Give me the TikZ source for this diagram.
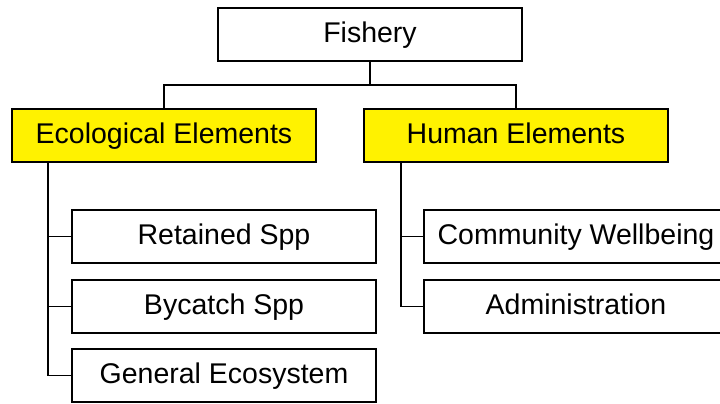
\documentclass[tikz,border=0pt]{standalone}
\usepackage{fontspec}
\setmainfont{Liberation Sans}
\usetikzlibrary{positioning}

\begin{document}
\begin{tikzpicture}[x=0.5pt, y=-0.5pt, line width=0.7pt,
        box/.style ={rectangle, draw, black, fill=white, text=black,
        minimum width=152pt, minimum height=26.5pt, inner sep=0pt,
        text height=10pt, text depth=2.5pt,
        font=\fontsize{14.25}{16}\selectfont},
        head/.style ={box, fill=yellow}]

        \useasboundingbox (0,0) rectangle (720,403);

        %\node [estilo] (nombre) at (posicion) {texto};
        \node[box] (fish) at (370, 34.5) {Fishery};
        \node[head] (eco) at (164, 135.5) {Ecological Elements};
        \node[head] (hum) at (516, 135.5) {Human Elements};
        \node[box] (ret) at (224, 236.5) {Retained Spp};
        \node[box] (byc) at (224, 306.5) {Bycatch Spp};
        \node[box] (gen) at (224, 375.5) {General Ecosystem};
        \node[box] (com) at (576, 236.5) {Community Wellbeing};
        \node[box] (adm) at (576, 306.5) {Administration};

        \coordinate (bus) at (370, 85);
        \coordinate (ecotrunk) at (48, 162);
        \coordinate (humtrunk) at (401, 162);

        \draw (fish.south) -- (bus);
        \draw (eco.north) |- (bus) -| (hum.north);

        \draw (ecotrunk) |- (gen.west);
        \draw (ecotrunk |- ret.west) -- (ret.west);
        \draw (ecotrunk |- byc.west) -- (byc.west);

        \draw (humtrunk) |- (adm.west);
        \draw (humtrunk |- com.west) -- (com.west);
    \end{tikzpicture}
\end{document}
